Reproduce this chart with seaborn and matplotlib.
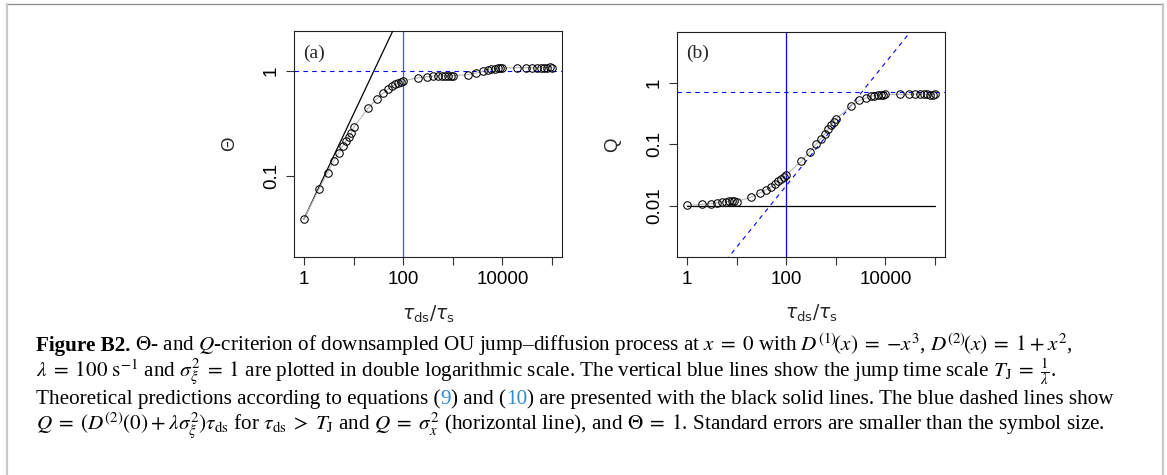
import numpy as np
import pandas as pd
import matplotlib
matplotlib.use("Agg")
import matplotlib.pyplot as plt
from matplotlib.lines import Line2D
import seaborn as sns

# ---------------- data ----------------
tau = [1, 2, 3, 4, 5, 6, 7, 8, 9, 10,
       20, 30, 40, 50, 60, 70, 80, 90, 100,
       200, 300, 400, 500, 600, 700, 800, 900, 1000,
       2000, 3000, 4000, 5000, 6000, 7000, 8000, 9000, 10000,
       20000, 30000, 40000, 50000, 60000, 70000, 80000, 90000, 100000]

theta = [0.039, 0.075, 0.108, 0.139, 0.166, 0.192, 0.216, 0.237, 0.255, 0.290,
         0.447, 0.547, 0.617, 0.676, 0.713, 0.745, 0.773, 0.794, 0.807,
         0.863, 0.883, 0.895, 0.900, 0.902, 0.902, 0.902, 0.902, 0.902,
         0.923, 0.957, 0.993, 1.030, 1.045, 1.050, 1.060, 1.065, 1.069,
         1.076, 1.076, 1.076, 1.076, 1.078, 1.078, 1.080, 1.095, 1.080]

q = [0.0101, 0.0105, 0.0108, 0.0112, 0.0116, 0.0117, 0.0118, 0.0119, 0.0119, 0.0117,
     0.0138, 0.0162, 0.0182, 0.0204, 0.0224, 0.0251, 0.0269, 0.0295, 0.0316,
     0.0525, 0.0759, 0.100, 0.123, 0.148, 0.174, 0.204, 0.229, 0.254,
     0.417, 0.516, 0.562, 0.600, 0.615, 0.631, 0.638, 0.638, 0.646,
     0.646, 0.646, 0.650, 0.650, 0.652, 0.648, 0.640, 0.640, 0.646]

# theoretical / reference lines
theta_line_x = [1, 100]
theta_line_y = [0.039, 3.9]          # slope-1 prediction (eq. 9)
theta_asym = 1.0                      # Theta = 1
q_sigma_x2 = 0.714                    # Q = sigma_x^2
q_line_x = [1, 100000]
q_line_y = [0.000211, 21.1]           # Q = (D2(0)+lambda sigma^2) tau_ds
q_small = 0.01                        # black horizontal theory line
T_J = 100                             # jump time scale (in tau_s units)

xticks = [1, 10, 100, 1000, 10000, 100000]
xticklabels = ["1", "", "100", "", "10000", ""]
yticks_a = [0.1, 1]
yticklabels_a = ["0.1", "1"]
yticks_b = [0.01, 0.1, 1]
yticklabels_b = ["0.01", "0.1", "1"]

# ---------------- figure ----------------
W, H = 1167, 475
sns.set_style("ticks")
plt.rcParams["font.family"] = ["Liberation Sans", "DejaVu Sans"]
plt.rcParams["mathtext.fontset"] = "dejavusans"

fig = plt.figure(figsize=(W / 100, H / 100), dpi=100)
fig.patch.set_facecolor("white")


def px_axes(l, t, r, b):
    return fig.add_axes([l / W, 1 - b / H, (r - l) / W, (b - t) / H])


ax_a = px_axes(294, 31, 562, 257)
ax_b = px_axes(677, 32, 945, 257)

pt_grey = "#b8b8b8"
for ax, yv in ((ax_a, theta), (ax_b, q)):
    df = pd.DataFrame({"tau": tau, "val": yv})
    sns.lineplot(data=df, x="tau", y="val", ax=ax, estimator=None, sort=False,
                 color=pt_grey, linewidth=0.8, marker="o", markersize=5.4,
                 markerfacecolor="none", markeredgecolor="black",
                 markeredgewidth=0.75, zorder=4)

# panel (a)
ax_a.plot(theta_line_x, theta_line_y, color="black", lw=0.9, zorder=3)
ax_a.axhline(theta_asym, color="blue", lw=0.8, ls=(0, (4, 4)), zorder=2)
ax_a.axvline(T_J, color="#4a4aff", lw=0.9, zorder=2)

# panel (b)
ax_b.plot(q_line_x, [q_small, q_small], color="black", lw=0.9, zorder=3)
ax_b.plot(q_line_x, q_line_y, color="blue", lw=0.8, ls=(0, (4, 4)), zorder=2)
ax_b.axhline(q_sigma_x2, color="blue", lw=0.8, ls=(0, (4, 4)), zorder=2)
ax_b.axvline(T_J, color="blue", lw=0.9, zorder=2)

for ax, yt, ytl, ylim, lab, tag in (
        (ax_a, yticks_a, yticklabels_a, (10 ** -1.771, 10 ** 0.381), "Θ", "(a)"),
        (ax_b, yticks_b, yticklabels_b, (10 ** -2.834, 10 ** 0.824), "Q", "(b)")):
    ax.set_xscale("log")
    ax.set_yscale("log")
    ax.set_xlim(10 ** -0.2, 10 ** 5.2)
    ax.set_ylim(*ylim)
    ax.set_xticks(xticks)
    ax.set_xticklabels(xticklabels)
    ax.set_yticks(yt)
    ax.set_yticklabels(ytl, rotation=90, va="center")
    ax.minorticks_off()
    ax.tick_params(direction="out", length=5.8, width=0.8, color="#333333",
                   labelsize=13.5, labelcolor="black")
    ax.tick_params(axis="x", pad=4)
    ax.tick_params(axis="y", pad=4.3)
    for s in ax.spines.values():
        s.set_visible(True)
        s.set_linewidth(0.8)
        s.set_color("#222222")
    ax.set_ylabel(lab, fontsize=13.5)
    ax.yaxis.set_label_coords(-0.21, 0.5)
    ax.set_xlabel(r"$\tau_{\rm ds}/\tau_{\rm s}$", fontsize=13.5)
    ax.xaxis.set_label_coords(0.5, -0.205)
    ax.text(0.075, 0.903, tag, transform=ax.transAxes, ha="center", va="center",
            fontsize=14, family="Liberation Serif")

# ---------------- frame ----------------
fig.add_artist(Line2D([7 / W, 1163 / W], [1 - 4 / H, 1 - 4 / H], color="#8c8c8c", lw=0.9))
fig.add_artist(Line2D([7 / W, 7 / W], [0, 1 - 4 / H], color="#c8c8c8", lw=1.6))
fig.add_artist(Line2D([1163 / W, 1163 / W], [0, 1 - 4 / H], color="#c8c8c8", lw=1.6))

# ---------------- caption ----------------
renderer = fig.canvas.get_renderer()
link_blue = "#2e8ccf"
cap_props = dict(family="Liberation Serif", math_fontfamily="stix")


def text_width(s, size, weight="normal"):
    p1 = fig.text(0, 0, "|" + s + "|", fontsize=size, fontweight=weight, **cap_props)
    p2 = fig.text(0, 0, "||", fontsize=size, fontweight=weight, **cap_props)
    w = p1.get_window_extent(renderer).width - p2.get_window_extent(renderer).width
    p1.remove()
    p2.remove()
    return w


def draw_pieces(x0, base, pieces, size):
    x = x0
    for s, color, weight in pieces:
        fig.text(x / W, 1 - base / H, s, color=color, fontweight=weight,
                 fontsize=size, va="baseline", ha="left", **cap_props)
        x += text_width(s, size, weight)
    return x


line1 = [("Figure B2.", "black", "bold"),
         (r" $\Theta$- and $Q$-criterion of downsampled OU jump–diffusion process at "
          r"$x\;=\;0$ with $D^{(1)}\!(x)\;=\;{-}x^3$, $D^{(2)}\!(x)\;=\;1\:+\:x^2$,",
          "black", "normal")]
line2 = [(r"$\lambda\;=\;100\ \mathrm{s}^{-1}$ and $\sigma_\xi^2\;=\;1$ are plotted in double "
          r"logarithmic scale. The vertical blue lines show the jump time scale "
          r"$T_\mathrm{J}\;=\;\frac{1}{\lambda}$.", "black", "normal")]
line3 = [("Theoretical predictions according to equations (", "black", "normal"),
         ("9", link_blue, "normal"),
         (") and (", "black", "normal"),
         ("10", link_blue, "normal"),
         (") are presented with the black solid lines. The blue dashed lines show",
          "black", "normal")]
line4 = [(r"$Q\;=\;(D^{(2)}(0)\:+\:\lambda\sigma_\xi^2)\tau_\mathrm{ds}$ for "
          r"$\tau_\mathrm{ds}\;>\;T_\mathrm{J}$ and $Q\;=\;\sigma_x^2$ (horizontal line), and "
          r"$\Theta\;=\;1$. Standard errors are smaller than the symbol size.",
          "black", "normal")]

# fit font size so that line 3 spans its width in the reference
base_size = 14.0
w3 = sum(text_width(s, base_size, wt) for s, c, wt in line3)
cap_size = base_size * (1115 - 36) / w3

x_left = 36
for pieces, base in ((line1, 351), (line2, 377), (line3, 404), (line4, 431)):
    draw_pieces(x_left, base, pieces, cap_size)

fig.savefig("out.png", dpi=100, facecolor="white")
